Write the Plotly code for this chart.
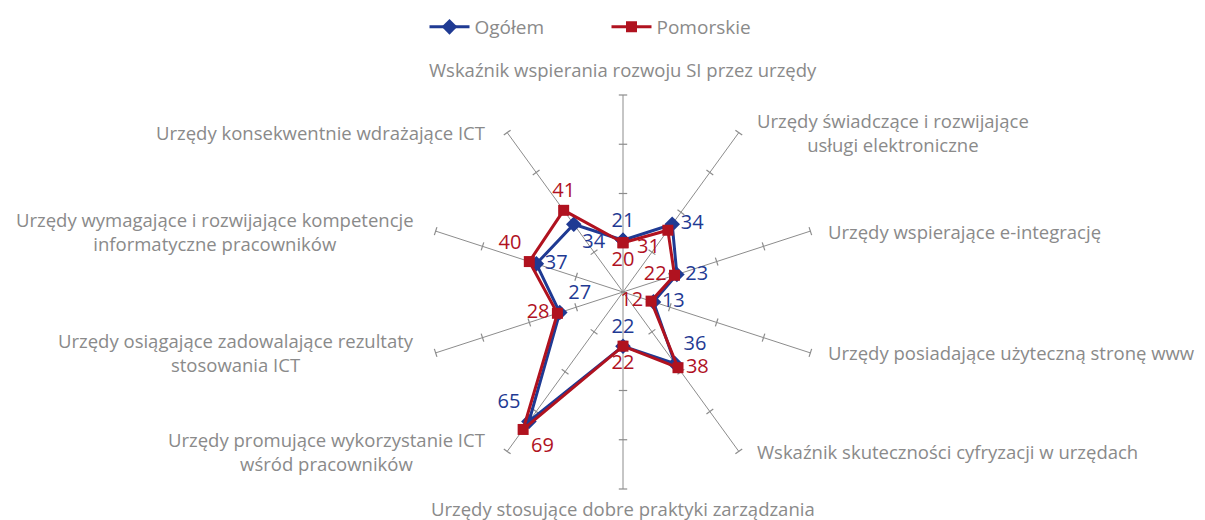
import math
import plotly.graph_objects as go

# ---- data ----
categories = [
    "Wskaźnik wspierania rozwoju SI przez urzędy",
    "Urzędy świadczące i rozwijające<br>usługi elektroniczne",
    "Urzędy wspierające e-integrację",
    "Urzędy posiadające użyteczną stronę www",
    "Wskaźnik skuteczności cyfryzacji w urzędach",
    "Urzędy stosujące dobre praktyki zarządzania",
    "Urzędy promujące wykorzystanie ICT<br>wśród pracowników",
    "Urzędy osiągające zadowalające rezultaty<br>stosowania ICT",
    "Urzędy wymagające i rozwijające kompetencje<br>informatyczne pracowników",
    "Urzędy konsekwentnie wdrażające ICT",
]
ogolem = [21, 34, 23, 13, 36, 22, 65, 27, 37, 34]
pomorskie = [20, 31, 22, 12, 38, 22, 69, 28, 40, 41]
radial_ticks = [20, 40, 60, 80]

ogolem_pos = ["top center", "middle right", "middle right", "middle right", "top right",
              "top center", "top left", "top right", "middle right", "bottom right"]
pomorskie_pos = ["bottom center", "bottom left", "middle left", "middle left", "middle right",
                 "bottom center", "bottom right", "middle left", "top left", "top center"]

BLUE = "#1f3a93"
RED = "#b0121f"
GRAY_TEXT = "#8a8a8a"
GRID = "#8c8c8c"
FONT = "Open Sans"

# the page body has an 8px default margin, so the figure is 8px smaller
OFF = 8
W, H = 1205 - OFF, 520 - OFF
CX, CY, R = 623 - OFF, 292 - OFF, 197  # polar centre / radius in px

n = len(categories)
keys = [f"c{i}" for i in range(n)]

fig = go.Figure()

# spoke tick marks
tick_r, tick_t, tick_a = [], [], []
for i, k in enumerate(keys):
    for rv in radial_ticks:
        tick_r.append(rv)
        tick_t.append(k)
        tick_a.append(360.0 / n * i)
fig.add_trace(go.Scatterpolar(
    r=tick_r, theta=tick_t, mode="markers", showlegend=False, hoverinfo="skip",
    marker=dict(symbol="line-ew", size=6, angle=tick_a,
                line=dict(color=GRID, width=1.2), color=GRID),
    cliponaxis=False,
))


def series(vals, pos, name, color, symbol, msize):
    return go.Scatterpolar(
        r=vals + [vals[0]], theta=keys + [keys[0]],
        mode="lines+markers+text", name=name,
        text=[str(v) for v in vals] + [""],
        textposition=pos + ["middle center"],
        textfont=dict(family=FONT, size=20, color=color),
        line=dict(color=color, width=3),
        marker=dict(symbol=symbol, size=msize, color=color),
        cliponaxis=False,
    )


fig.add_trace(series(ogolem, ogolem_pos, "Ogółem", BLUE, "diamond", 12))
fig.add_trace(series(pomorskie, pomorskie_pos, "Pomorskie", RED, "square", 11))

# category labels around the chart
annotations = []
for i, lab in enumerate(categories):
    a = math.radians(360.0 / n * i)
    px = CX + R * math.sin(a)
    py = CY - R * math.cos(a)
    s = math.sin(a)
    if s > 0.1:
        xa, xs, ya, ys = "left", 16, "middle", 0
    elif s < -0.1:
        xa, xs, ya, ys = "right", -20, "middle", 0
    else:
        xa, xs = "center", 0
        if math.cos(a) > 0:
            ya, ys = "bottom", 11
        else:
            ya, ys = "top", -5
    annotations.append(dict(
        x=px / W, y=1 - py / H, xref="paper", yref="paper",
        text=lab, showarrow=False, xanchor=xa, yanchor=ya, xshift=xs, yshift=ys,
        align="center", font=dict(family=FONT, size=18.5, color=GRAY_TEXT),
    ))

fig.update_layout(
    width=W, height=H,
    margin=dict(l=0, r=0, t=0, b=0, autoexpand=False),
    paper_bgcolor="white", plot_bgcolor="white",
    font=dict(family=FONT, color=GRAY_TEXT),
    polar=dict(
        domain=dict(x=[(CX - R) / W, (CX + R) / W], y=[1 - (CY + R) / H, 1 - (CY - R) / H]),
        bgcolor="white",
        radialaxis=dict(range=[0, radial_ticks[-1]], showgrid=False, showline=False,
                        showticklabels=False, ticks=""),
        angularaxis=dict(type="category", categoryarray=keys, rotation=90, direction="clockwise",
                         showgrid=True, gridcolor=GRID, gridwidth=1, showline=False,
                         showticklabels=False, ticks=""),
    ),
    legend=dict(orientation="h", x=0.5, xanchor="center", y=1.0, yanchor="top",
                font=dict(family=FONT, size=19, color=GRAY_TEXT), entrywidth=127,
                itemwidth=40),
    annotations=annotations,
    showlegend=True,
)

fig.write_html("out.html")
